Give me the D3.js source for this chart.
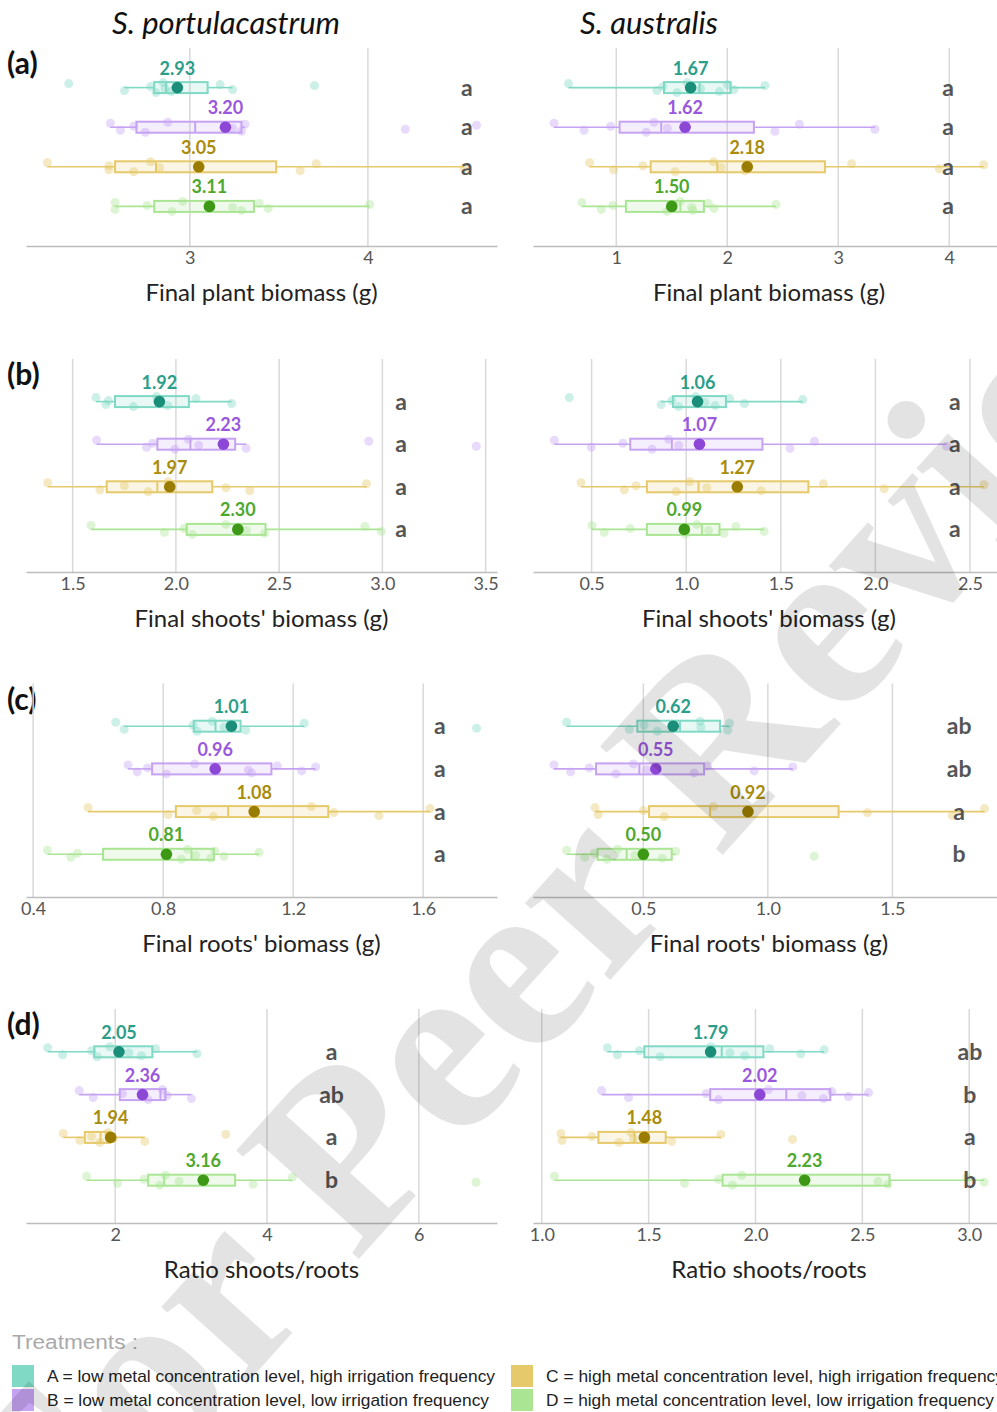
<!DOCTYPE html>
<html>
<head>
<meta charset="utf-8">
<script src="https://cdn.jsdelivr.net/npm/d3@7"></script>
<style>
  html, body { margin: 0; background: #fff; }
  svg { display: block; }
</style>
</head>
<body>
<svg id="fig" width="997" height="1412"></svg>
<script>
// Treatments and their colours
const treatments = ["A", "B", "C", "D"];
const lightColors = ["#7fd9c5", "#c6a3f2", "#e6c96a", "#a9e593"];
const darkColors  = ["#1b8e79", "#8c47d6", "#9a7c00", "#3d9816"];
const textColors  = ["#2b9e8a", "#9a58dd", "#a98c0c", "#4ea82d"];

const species = ["S. portulacastrum", "S. australis"];
const legendLines = [
  "A = low metal concentration level, high irrigation frequency",
  "B = low metal concentration level, low irrigation frequency",
  "C = high metal concentration level, high irrigation frequency",
  "D = high metal concentration level, low irrigation frequency"
];

// ---- (a) Final plant biomass (g) ----
const plantPortPoints = [
  [2.32, 2.633, 2.78, 2.81, 2.85, 2.86, 2.895, 3.17, 3.24, 3.70],
  [2.554, 2.61, 2.685, 2.75, 2.876, 3.24, 3.29, 3.31, 4.21, 4.61],
  [2.20, 2.545, 2.545, 2.685, 2.78, 2.83, 3.62, 3.71, 4.54],
  [2.58, 2.58, 2.76, 2.90, 2.96, 3.24, 3.29, 3.39, 3.44, 4.01]
];
// [lower whisker, Q1, median, Q3, upper whisker]
const plantPortBox = [
  [2.633, 2.80, 2.867, 3.10, 3.24],
  [2.554, 2.70, 3.03, 3.29, 3.31],
  [2.20, 2.58, 2.81, 3.485, 4.54],
  [2.58, 2.80, 3.10, 3.36, 4.01]
];
const plantPortMeans = [2.93, 3.20, 3.05, 3.11];
const plantPortLetters = ["a", "a", "a", "a"];

const plantAustPoints = [
  [0.57, 1.366, 1.42, 1.547, 1.64, 1.76, 1.93, 2.00, 2.06, 2.34],
  [0.44, 0.71, 0.95, 1.27, 1.34, 1.46, 2.43, 2.65, 3.33],
  [0.76, 0.976, 1.24, 1.53, 1.877, 1.946, 2.16, 3.12, 3.91, 4.31],
  [0.69, 0.865, 0.97, 1.456, 1.577, 1.68, 1.69, 1.83, 1.88, 2.44]
];
const plantAustBox = [
  [0.57, 1.43, 1.75, 2.03, 2.34],
  [0.44, 1.03, 1.405, 2.24, 3.33],
  [0.76, 1.31, 1.91, 2.88, 4.31],
  [0.69, 1.087, 1.577, 1.79, 2.44]
];
const plantAustMeans = [1.67, 1.62, 2.18, 1.50];
const plantAustLetters = ["a", "a", "a", "a"];

// ---- (b) Final shoots' biomass (g) ----
const shootPortPoints = [
  [1.613, 1.661, 1.673, 1.794, 1.906, 1.92, 1.96, 2.097, 2.27],
  [1.616, 1.858, 1.887, 1.995, 2.06, 2.11, 2.34, 2.934, 3.455],
  [1.379, 1.632, 1.75, 1.866, 1.963, 2.242, 2.358, 2.923],
  [1.589, 1.944, 2.04, 2.08, 2.242, 2.342, 2.43, 2.915, 2.995]
];
const shootPortBox = [
  [1.613, 1.705, 1.906, 2.063, 2.27],
  [1.616, 1.91, 2.07, 2.287, 2.34],
  [1.379, 1.665, 1.91, 2.176, 2.923],
  [1.589, 2.052, 2.30, 2.434, 2.995]
];
const shootPortMeans = [1.92, 2.23, 1.97, 2.30];
const shootPortLetters = ["a", "a", "a", "a"];

const shootAustPoints = [
  [0.382, 0.868, 0.924, 0.96, 1.05, 1.10, 1.153, 1.229, 1.308, 1.616],
  [0.303, 0.498, 0.665, 0.819, 0.907, 0.96, 1.549, 1.678, 2.377],
  [0.444, 0.673, 0.734, 0.947, 1.018, 1.109, 1.396, 1.725, 2.046, 2.574],
  [0.502, 0.567, 0.704, 0.995, 1.056, 1.118, 1.20, 1.262, 1.412]
];
const shootAustBox = [
  [0.868, 0.93, 1.056, 1.21, 1.616],
  [0.303, 0.704, 0.924, 1.403, 2.377],
  [0.444, 0.792, 1.065, 1.646, 2.574],
  [0.502, 0.792, 1.083, 1.176, 1.412]
];
const shootAustMeans = [1.06, 1.07, 1.27, 0.99];
const shootAustLetters = ["a", "a", "a", "a"];

// ---- (c) Final roots' biomass (g) ----
const rootPortPoints = [
  [0.654, 0.68, 0.892, 0.905, 0.951, 0.987, 1.054, 1.234, 1.764],
  [0.692, 0.72, 0.752, 0.81, 0.897, 1.062, 1.072, 1.151, 1.226, 1.269],
  [0.569, 0.815, 0.903, 0.954, 1.256, 1.325, 1.464, 1.621],
  [0.444, 0.516, 0.536, 0.856, 0.875, 0.90, 0.946, 0.959, 0.987, 1.095]
];
const rootPortBox = [
  [0.68, 0.894, 0.961, 1.038, 1.234],
  [0.692, 0.766, 0.96, 1.133, 1.269],
  [0.569, 0.839, 1.0, 1.308, 1.621],
  [0.444, 0.615, 0.887, 0.956, 1.095]
];
const rootPortMeans = [1.01, 0.96, 1.08, 0.81];
const rootPortLetters = ["a", "a", "a", "a"];

const rootAustPoints = [
  [0.192, 0.444, 0.503, 0.556, 0.728, 0.731, 0.839, 0.846],
  [0.141, 0.208, 0.283, 0.39, 0.46, 0.513, 0.704, 0.757, 0.945, 1.10],
  [0.306, 0.319, 0.50, 0.584, 0.781, 1.40, 1.74, 1.87],
  [0.192, 0.265, 0.303, 0.353, 0.397, 0.466, 0.576, 0.63, 1.186]
];
const rootAustBox = [
  [0.192, 0.476, 0.647, 0.808, 0.846],
  [0.141, 0.31, 0.484, 0.744, 1.10],
  [0.306, 0.523, 0.768, 1.284, 1.87],
  [0.192, 0.316, 0.433, 0.614, 0.63]
];
const rootAustMeans = [0.62, 0.55, 0.92, 0.50];
const rootAustLetters = ["ab", "ab", "a", "b"];

// ---- (d) Ratio shoots/roots ----
const ratioPortPoints = [
  [1.11, 1.307, 1.689, 1.763, 1.93, 2.18, 2.346, 2.535, 3.079],
  [1.526, 1.71, 2.096, 2.434, 2.623, 2.684, 3.004],
  [1.316, 1.535, 1.689, 1.798, 1.908, 1.974, 2.39, 3.456],
  [1.623, 2.03, 2.38, 2.588, 2.66, 2.842, 3.816, 4.333, 6.754]
];
const ratioPortBox = [
  [1.11, 1.724, 2.05, 2.49, 3.079],
  [1.526, 2.061, 2.596, 2.662, 3.004],
  [1.316, 1.60, 1.807, 1.93, 2.39],
  [1.623, 2.434, 2.645, 3.58, 4.333]
];
const ratioPortMeans = [2.05, 2.36, 1.94, 3.16];
const ratioPortLetters = ["a", "ab", "a", "b"];

const ratioAustPoints = [
  [1.307, 1.354, 1.457, 1.554, 1.79, 1.88, 1.95, 2.066, 2.212, 2.321],
  [1.28, 1.406, 1.769, 1.827, 2.061, 2.217, 2.318, 2.357, 2.435, 2.529],
  [1.089, 1.095, 1.234, 1.362, 1.417, 1.429, 1.608, 1.838, 2.173],
  [1.059, 1.668, 1.827, 1.892, 1.936, 2.573, 2.619, 2.989, 3.07]
];
const ratioAustBox = [
  [1.307, 1.48, 1.842, 2.037, 2.321],
  [1.28, 1.788, 2.144, 2.35, 2.529],
  [1.089, 1.265, 1.434, 1.58, 1.838],
  [1.059, 1.846, 2.22, 2.627, 3.07]
];
const ratioAustMeans = [1.79, 2.02, 1.48, 2.23];
const ratioAustLetters = ["ab", "b", "a", "b"];

// Tick values per panel
const plantPortTicks = [3, 4];
const plantAustTicks = [1, 2, 3, 4];
const shootPortTicks = [1.5, 2.0, 2.5, 3.0, 3.5];
const shootAustTicks = [0.5, 1.0, 1.5, 2.0, 2.5];
const rootPortTicks = [0.4, 0.8, 1.2, 1.6];
const rootAustTicks = [0.5, 1.0, 1.5];
const ratioPortTicks = [2, 4, 6];
const ratioAustTicks = [1.0, 1.5, 2.0, 2.5, 3.0];

// ---------------- layout ----------------
const colRange = [[26, 497], [533, 997]];
const rows = [
  { tag: "(a)", top: 48,    axisY: 246,  title: "Final plant biomass (g)" },
  { tag: "(b)", top: 359,   axisY: 572,  title: "Final shoots' biomass (g)" },
  { tag: "(c)", top: 683.5, axisY: 897,  title: "Final roots' biomass (g)" },
  { tag: "(d)", top: 1009,  axisY: 1223, title: "Ratio shoots/roots" }
];

const panels = [
  { row: 0, col: 0, domain: [2.08, 4.725], ticks: plantPortTicks, fmt: "d",  letterAt: 4.556,
    pts: plantPortPoints, box: plantPortBox, means: plantPortMeans, letters: plantPortLetters },
  { row: 0, col: 1, domain: [0.25, 4.43], ticks: plantAustTicks, fmt: "d",  letterAt: 3.99,
    pts: plantAustPoints, box: plantAustBox, means: plantAustMeans, letters: plantAustLetters },
  { row: 1, col: 0, domain: [1.274, 3.555], ticks: shootPortTicks, fmt: ".1f", letterAt: 3.09,
    pts: shootPortPoints, box: shootPortBox, means: shootPortMeans, letters: shootPortLetters },
  { row: 1, col: 1, domain: [0.19, 2.643], ticks: shootAustTicks, fmt: ".1f", letterAt: 2.42,
    pts: shootAustPoints, box: shootAustBox, means: shootAustMeans, letters: shootAustLetters },
  { row: 2, col: 0, domain: [0.378, 1.827], ticks: rootPortTicks, fmt: ".1f", letterAt: 1.651,
    pts: rootPortPoints, box: rootPortBox, means: rootPortMeans, letters: rootPortLetters },
  { row: 2, col: 1, domain: [0.057, 1.92], ticks: rootAustTicks, fmt: ".1f", letterAt: 1.768,
    pts: rootAustPoints, box: rootAustBox, means: rootAustMeans, letters: rootAustLetters },
  { row: 3, col: 0, domain: [0.825, 7.03], ticks: ratioPortTicks, fmt: "d", letterAt: 4.85,
    pts: ratioPortPoints, box: ratioPortBox, means: ratioPortMeans, letters: ratioPortLetters },
  { row: 3, col: 1, domain: [0.959, 3.13], ticks: ratioAustTicks, fmt: ".1f", letterAt: 3.003,
    pts: ratioAustPoints, box: ratioAustBox, means: ratioAustMeans, letters: ratioAustLetters }
];

// small vertical spread for the individual observations
const jitter = [-4, 3, -1, 5, -5, 1, 4, -3, 2, -2, 0, 5];

const svg = d3.select("#fig");
const FONT = "Lato, 'Open Sans', sans-serif";

// species titles
svg.selectAll("text.species").data(species).join("text")
  .attr("class", "species")
  .attr("x", (d, i) => i === 0 ? 226 : 649)
  .attr("y", 34)
  .attr("text-anchor", "middle")
  .attr("font-family", FONT).attr("font-style", "italic")
  .attr("font-size", 31).attr("fill", "#111")
  .text(d => d);

// row tags and axis titles
rows.forEach(r => {
  svg.append("text")
    .attr("x", 7).attr("y", r.top + 26)
    .attr("font-family", FONT).attr("font-weight", 700)
    .attr("font-size", 30).attr("fill", "#111")
    .text(r.tag);
  colRange.forEach((cr, ci) => {
    svg.append("text")
      .attr("x", (cr[0] + cr[1]) / 2 + (ci ? 4 : 0)).attr("y", r.axisY + 55)
      .attr("text-anchor", "middle")
      .attr("font-family", FONT).attr("font-size", 24).attr("fill", "#222")
      .text(r.title);
  });
});

panels.forEach(p => {
  const r = rows[p.row];
  const x = d3.scaleLinear().domain(p.domain).range(colRange[p.col]);
  const y = d3.scalePoint().domain(["", ...treatments, " "]).range([r.top, r.axisY]);
  const g = svg.append("g");

  // vertical grid
  g.selectAll("line.grid").data(p.ticks).join("line")
    .attr("x1", d => x(d)).attr("x2", d => x(d))
    .attr("y1", r.top).attr("y2", r.axisY)
    .attr("stroke", "#d9d9d9").attr("stroke-width", 1.5);

  // x axis
  const axis = d3.axisBottom(x).tickValues(p.ticks).tickSize(0).tickPadding(5)
    .tickFormat(d3.format(p.fmt));
  const ax = g.append("g").attr("transform", `translate(0,${r.axisY})`).call(axis);
  ax.select(".domain").attr("stroke", "#bdbdbd").attr("stroke-width", 1.5);
  ax.selectAll("text").attr("font-family", FONT).attr("font-size", 18).attr("fill", "#555");

  treatments.forEach((t, i) => {
    const cy = y(t);
    const [lo, q1, med, q3, hi] = p.box[i];
    const light = lightColors[i];

    // whiskers
    g.append("line").attr("x1", x(lo)).attr("x2", x(q1)).attr("y1", cy).attr("y2", cy)
      .attr("stroke", light).attr("stroke-width", 1.6);
    g.append("line").attr("x1", x(q3)).attr("x2", x(hi)).attr("y1", cy).attr("y2", cy)
      .attr("stroke", light).attr("stroke-width", 1.6);

    // observations
    g.selectAll(null).data(p.pts[i]).join("circle")
      .attr("cx", d => x(d)).attr("cy", (d, k) => cy + jitter[k % jitter.length])
      .attr("r", 4.5).attr("fill", light).attr("fill-opacity", 0.4);

    // box
    g.append("rect").attr("x", x(q1)).attr("y", cy - 5.5)
      .attr("width", x(q3) - x(q1)).attr("height", 11)
      .attr("fill", light).attr("fill-opacity", 0.18)
      .attr("stroke", light).attr("stroke-width", 2);
    g.append("line").attr("x1", x(med)).attr("x2", x(med)).attr("y1", cy - 5.5).attr("y2", cy + 5.5)
      .attr("stroke", light).attr("stroke-width", 2);

    // mean
    g.append("circle").attr("cx", x(p.means[i])).attr("cy", cy).attr("r", 5.8)
      .attr("fill", darkColors[i]);
    g.append("text").attr("x", x(p.means[i])).attr("y", cy - 13)
      .attr("text-anchor", "middle")
      .attr("font-family", FONT).attr("font-weight", 700).attr("font-size", 18)
      .attr("fill", textColors[i])
      .text(d3.format(".2f")(p.means[i]));

    // significance letter
    g.append("text").attr("x", x(p.letterAt)).attr("y", cy + 8)
      .attr("text-anchor", "middle")
      .attr("font-family", FONT).attr("font-weight", 700).attr("font-size", 23)
      .attr("fill", "#555")
      .text(p.letters[i]);
  });
});

// legend
const LEG = "'Liberation Sans', Arial, sans-serif";
svg.append("text").attr("x", 12).attr("y", 1349)
  .attr("font-family", LEG).attr("font-size", 20).attr("fill", "#aaa")
  .attr("textLength", 126).attr("lengthAdjust", "spacingAndGlyphs")
  .text("Treatments :");

const legendPos = [[12, 1365], [12, 1389], [511, 1365], [511, 1389]];
const legendWidths = [448, 442, 458, 448];
legendLines.forEach((txt, i) => {
  const [lx, ly] = legendPos[i];
  svg.append("rect").attr("x", lx).attr("y", ly).attr("width", 22).attr("height", 22)
    .attr("fill", lightColors[i]);
  svg.append("text").attr("x", lx + 35).attr("y", ly + 17)
    .attr("font-family", LEG).attr("font-size", 17).attr("fill", "#222")
    .attr("textLength", legendWidths[i]).attr("lengthAdjust", "spacingAndGlyphs")
    .text(txt);
});

// review watermark
svg.append("text")
  .attr("transform", "translate(605,900) rotate(-48)")
  .attr("text-anchor", "middle")
  .attr("dominant-baseline", "middle")
  .attr("font-family", "'Liberation Serif', 'DejaVu Serif', serif")
  .attr("font-weight", 700).attr("font-size", 250)
  .attr("fill", "#000").attr("fill-opacity", 0.11)
  .style("pointer-events", "none")
  .text("For Peer Review");
</script>
</body>
</html>
